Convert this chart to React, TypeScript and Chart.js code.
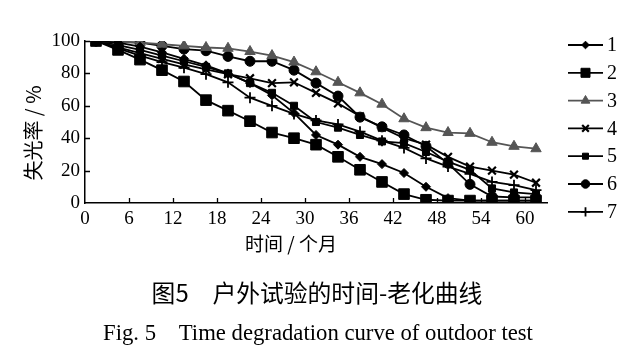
import React, { useEffect, useRef } from 'react';
import { Chart, registerables } from 'chart.js';
import { drawPoint } from 'chart.js/helpers';

Chart.register(...registerables);

// ---- data ----
const months = [1.5, 4.5, 7.5, 10.5, 13.5, 16.5, 19.5, 22.5, 25.5, 28.5, 31.5, 34.5, 37.5, 40.5, 43.5, 46.5, 49.5, 52.5, 55.5, 58.5, 61.5];
const seriesNames = ['1', '2', '3', '4', '5', '6', '7'];
const s1 = [100, 99, 96.5, 93, 89, 85, 80, 74, 66.5, 55.5, 42, 36, 28.5, 24, 18.5, 10, 3, 1.5, 1.5, 1.5, 1.5];
const s2 = [100, 94.5, 88.5, 82, 75, 63.5, 57, 50.5, 43.5, 40, 36, 28.5, 20.5, 13, 5.5, 2, 1.5, 1.5, 1.5, 1.5, 1.5];
const s3 = [100, 99.5, 99, 98, 97, 96, 95.5, 93.5, 91, 87, 81, 74.5, 68, 61, 52, 46.5, 43.5, 43, 37.5, 35, 33.5];
const s4 = [100, 96, 92.5, 89, 85.5, 82.5, 79.5, 77, 74, 74.5, 68, 61.5, 53.5, 46.5, 40, 36, 28.5, 22.5, 20, 17.5, 12.5];
const s5 = [100, 97.5, 94.5, 91, 87.5, 84, 80, 74, 68, 60, 50, 46.5, 42, 38, 37, 31.5, 25.5, 20.5, 9, 6.5, 5.5];
const s6 = [100, 99.5, 99, 97, 95, 94, 90.5, 87.5, 87.5, 82, 74, 66, 53, 47, 42, 35, 24.5, 11.5, 4, 3.5, 3.5];
const s7 = [100, 95.5, 91, 87, 83.5, 79.5, 74.5, 65, 60, 55, 51, 48.5, 44, 38.5, 34, 27.5, 22.5, 18, 13, 11, 8];
const allSeries = [s1, s2, s3, s4, s5, s6, s7];

const xTicks = [0, 6, 12, 18, 24, 30, 36, 42, 48, 54, 60];
const yTicks = [0, 20, 40, 60, 80, 100];
const xTitle = '时间 / 个月';
const yTitle = '失光率 / %';
const captionZh = '图5\u2003户外试验的时间-老化曲线';
const captionEn = 'Fig. 5\u2002\u2002Time degradation curve of outdoor test';

// ---- styles ----
const SERIF = "'Liberation Serif', 'DejaVu Serif', serif";
const CJK = "'Noto Sans CJK SC', 'Noto Sans', sans-serif";
const markerStyles = [
  { pointStyle: 'rectRot', radius: 4.5, color: '#000', borderWidth: 1 },
  { pointStyle: 'rect', radius: 7.5, color: '#000', borderWidth: 1 },
  { pointStyle: 'triangle', radius: 6, color: '#555', borderWidth: 1 },
  { pointStyle: 'crossRot', radius: 5.5, color: '#000', borderWidth: 2.2 },
  { pointStyle: 'rect', radius: 5, color: '#000', borderWidth: 1 },
  { pointStyle: 'circle', radius: 5, color: '#000', borderWidth: 1 },
  { pointStyle: 'cross', radius: 5.5, color: '#000', borderWidth: 1.8 },
];

const decorPlugin = {
  id: 'decor',
  afterDraw(chart: any) {
    const ctx = chart.ctx as CanvasRenderingContext2D;
    const xs = chart.scales.x;
    const ys = chart.scales.y;
    const area = chart.chartArea;
    ctx.save();
    // inward tick marks
    ctx.strokeStyle = '#000';
    ctx.lineWidth = 1.3;
    ctx.beginPath();
    xTicks.forEach((v) => {
      if (v === xs.min) return;
      const px = Math.round(xs.getPixelForValue(v)) + 0.5;
      ctx.moveTo(px, area.bottom);
      ctx.lineTo(px, area.bottom - 5);
    });
    yTicks.forEach((v) => {
      if (v === ys.min) return;
      const py = Math.round(ys.getPixelForValue(v)) + 0.5;
      ctx.moveTo(area.left, py);
      ctx.lineTo(area.left + 5, py);
    });
    ctx.stroke();

    // axis titles
    ctx.fillStyle = '#000';
    ctx.textAlign = 'center';
    ctx.textBaseline = 'middle';
    ctx.font = `19px ${CJK}`;
    ctx.fillText(xTitle, 291, 244);
    ctx.save();
    ctx.translate(33, 133);
    ctx.rotate(-Math.PI / 2);
    ctx.font = `20px ${CJK}`;
    ctx.fillText(yTitle, 0, 0);
    ctx.restore();

    // legend
    const lx0 = 568, lx1 = 603, ly0 = 45, ldy = 27.8;
    chart.data.datasets.forEach((ds: any, i: number) => {
      const st = markerStyles[i];
      const y = ly0 + ldy * i;
      ctx.strokeStyle = st.color;
      ctx.lineWidth = 1.8;
      ctx.beginPath();
      ctx.moveTo(lx0, y);
      ctx.lineTo(lx1, y);
      ctx.stroke();
      ctx.fillStyle = st.color;
      ctx.strokeStyle = st.color;
      ctx.lineWidth = st.borderWidth;
      drawPoint(ctx, { pointStyle: st.pointStyle, radius: st.radius * 0.85, rotation: 0, borderWidth: st.borderWidth } as any, (lx0 + lx1) / 2, y);
      ctx.fillStyle = '#000';
      ctx.textAlign = 'left';
      ctx.textBaseline = 'middle';
      ctx.font = `20px ${SERIF}`;
      ctx.fillText(ds.label, 607, y + 1);
    });

    // captions (fit to measured widths)
    const fitText = (text: string, family: string, cx: number, cy: number, targetW: number) => {
      ctx.font = `20px ${family}`;
      const w = ctx.measureText(text).width;
      const size = 20 * targetW / w;
      ctx.font = `${size.toFixed(2)}px ${family}`;
      ctx.textAlign = 'center';
      ctx.textBaseline = 'middle';
      ctx.fillStyle = '#000';
      ctx.fillText(text, cx, cy);
    };
    fitText(captionZh, CJK, 317, 293, 331);
    fitText(captionEn, SERIF, 318, 334, 430);
    ctx.restore();
  },
};

export default function App() {
  const ref = useRef<HTMLCanvasElement | null>(null);
  useEffect(() => {
    if (!ref.current) return;
    const chart = new Chart(ref.current, {
      type: 'line',
      data: {
        datasets: allSeries.map((s, i) => ({
          label: seriesNames[i],
          data: months.map((m, j) => ({ x: m, y: s[j] })),
          borderColor: markerStyles[i].color,
          backgroundColor: markerStyles[i].color,
          pointBackgroundColor: markerStyles[i].color,
          pointBorderColor: markerStyles[i].color,
          pointStyle: markerStyles[i].pointStyle as any,
          pointRadius: markerStyles[i].radius,
          pointBorderWidth: markerStyles[i].borderWidth,
          borderWidth: 1.8,
          tension: 0,
          fill: false,
        })),
      },
      options: {
        responsive: false,
        animation: false,
        layout: { padding: { left: 0, top: 41, right: 89, bottom: 119 } },
        plugins: { legend: { display: false }, tooltip: { enabled: false } },
        scales: {
          x: {
            type: 'linear',
            min: 0,
            max: 63,
            afterBuildTicks: (s: any) => { s.ticks = xTicks.map((v) => ({ value: v })); },
            afterFit: (s: any) => { s.height = 30; },
            grid: { display: false, drawTicks: false },
            border: { color: '#000', width: 1.5 },
            ticks: { color: '#000', font: { family: SERIF, size: 19 }, padding: 5, maxRotation: 0, autoSkip: false },
          },
          y: {
            type: 'linear',
            min: 0,
            max: 100,
            afterBuildTicks: (s: any) => { s.ticks = yTicks.map((v) => ({ value: v })); },
            afterFit: (s: any) => { s.width = 85; },
            grid: { display: false, drawTicks: false },
            border: { color: '#000', width: 1.5 },
            ticks: { color: '#000', font: { family: SERIF, size: 19 }, padding: 5 },
          },
        },
      },
      plugins: [decorPlugin],
    });
    return () => chart.destroy();
  }, []);
  return (
    <div style={{ position: 'absolute', left: 0, top: 0, width: 636, height: 352, background: '#fff' }}>
      <canvas ref={ref} width={636} height={352} style={{ display: 'block' }} />
    </div>
  );
}
